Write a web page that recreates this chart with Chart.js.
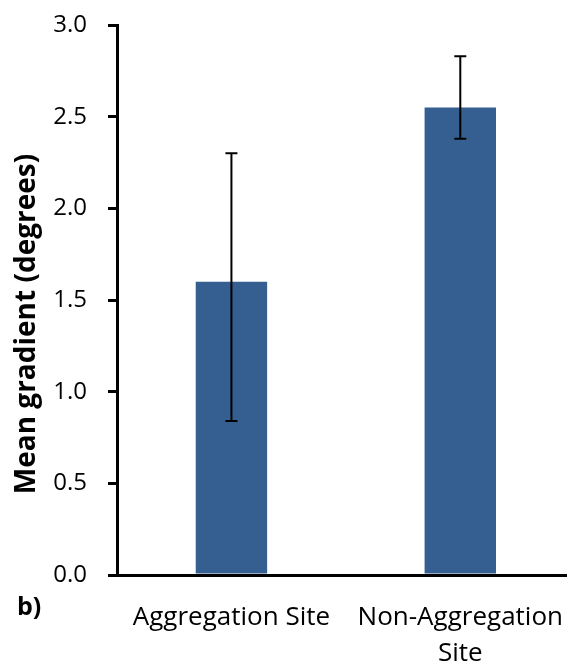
<!DOCTYPE html>
<html lang="en">
<head>
    <meta charset="UTF-8">
    <title>Mean gradient</title>
    <script src="https://cdn.jsdelivr.net/npm/chart.js"></script>
    <style>
        html, body { margin: 0; padding: 0; background: #fff; overflow: hidden; }
        .wrap { position: relative; width: 580px; height: 665px; }
        .panel-label {
            position: absolute; left: 17px; top: 588px;
            font: bold 25px "Open Sans", sans-serif; color: #000;
        }
    </style>
</head>
<body>
    <div class="wrap">
        <canvas id="gradientChart" width="580" height="665"></canvas>
        <div class="panel-label">b)</div>
    </div>

    <script>
        // data
        const sites = [['Aggregation Site'], ['Non-Aggregation', 'Site']];
        const meanGradient = [1.6, 2.55];
        const errTop = [2.30, 2.83];
        const errBottom = [0.84, 2.38];
        const yTicks = [0, 0.5, 1.0, 1.5, 2.0, 2.5, 3.0];
        const yTitle = 'Mean gradient (degrees)';

        // error bars drawn on top of bars
        const errorBars = {
            id: 'errorBars',
            afterDatasetsDraw(chart) {
                const ctx = chart.ctx;
                const y = chart.scales.y;
                const meta = chart.getDatasetMeta(0);
                ctx.save();
                ctx.strokeStyle = '#000';
                ctx.lineWidth = 2;
                meta.data.forEach(function (bar, i) {
                    const x = bar.x;
                    const yt = y.getPixelForValue(errTop[i]);
                    const yb = y.getPixelForValue(errBottom[i]);
                    ctx.beginPath();
                    ctx.moveTo(x, yt); ctx.lineTo(x, yb);
                    ctx.moveTo(x - 6, yt); ctx.lineTo(x + 6, yt);
                    ctx.moveTo(x - 6, yb); ctx.lineTo(x + 6, yb);
                    ctx.stroke();
                });
                ctx.restore();
            }
        };

        // y title sits a bit below the middle of the axis in the original
        const axisTitle = {
            id: 'axisTitle',
            afterDraw(chart) {
                const ctx = chart.ctx;
                ctx.save();
                ctx.translate(35, 324);
                ctx.rotate(-Math.PI / 2);
                ctx.font = 'bold 28px "Open Sans", sans-serif';
                ctx.fillStyle = '#000';
                ctx.textAlign = 'center';
                ctx.textBaseline = 'alphabetic';
                ctx.fillText(yTitle, 0, 0);
                ctx.restore();
            }
        };

        Chart.defaults.font.family = '"Open Sans", sans-serif';
        Chart.defaults.color = '#000';

        new Chart(document.getElementById('gradientChart'), {
            type: 'bar',
            data: {
                labels: sites,
                datasets: [{
                    data: meanGradient,
                    backgroundColor: '#365F91',
                    barPercentage: 0.312,
                    categoryPercentage: 1
                }]
            },
            options: {
                responsive: false,
                animation: false,
                layout: { padding: { top: 25, left: 0, right: 0, bottom: 0 } },
                plugins: { legend: { display: false }, tooltip: { enabled: false } },
                scales: {
                    x: {
                        grid: { display: false },
                        border: { display: true, color: '#000', width: 3 },
                        ticks: {
                            font: { size: 26, lineHeight: 1.385 },
                            padding: 17,
                            maxRotation: 0,
                            autoSkip: false
                        },
                        afterFit(scale) { scale.height = 90; }
                    },
                    y: {
                        min: 0,
                        max: 3,
                        afterBuildTicks(scale) {
                            scale.ticks = yTicks.map(v => ({ value: v }));
                        },
                        grid: {
                            drawOnChartArea: false,
                            drawTicks: true,
                            tickLength: 9,
                            color: '#000',
                            lineWidth: 3
                        },
                        border: { display: true, color: '#000', width: 3 },
                        ticks: {
                            font: { size: 24 },
                            padding: 21,
                            callback: v => Number(v).toFixed(1)
                        },
                        afterFit(scale) {
                            scale.width = 117;
                            scale.paddingTop = 0;
                            scale.paddingBottom = 0;
                        }
                    }
                }
            },
            plugins: [errorBars, axisTitle]
        });
    </script>
</body>
</html>
